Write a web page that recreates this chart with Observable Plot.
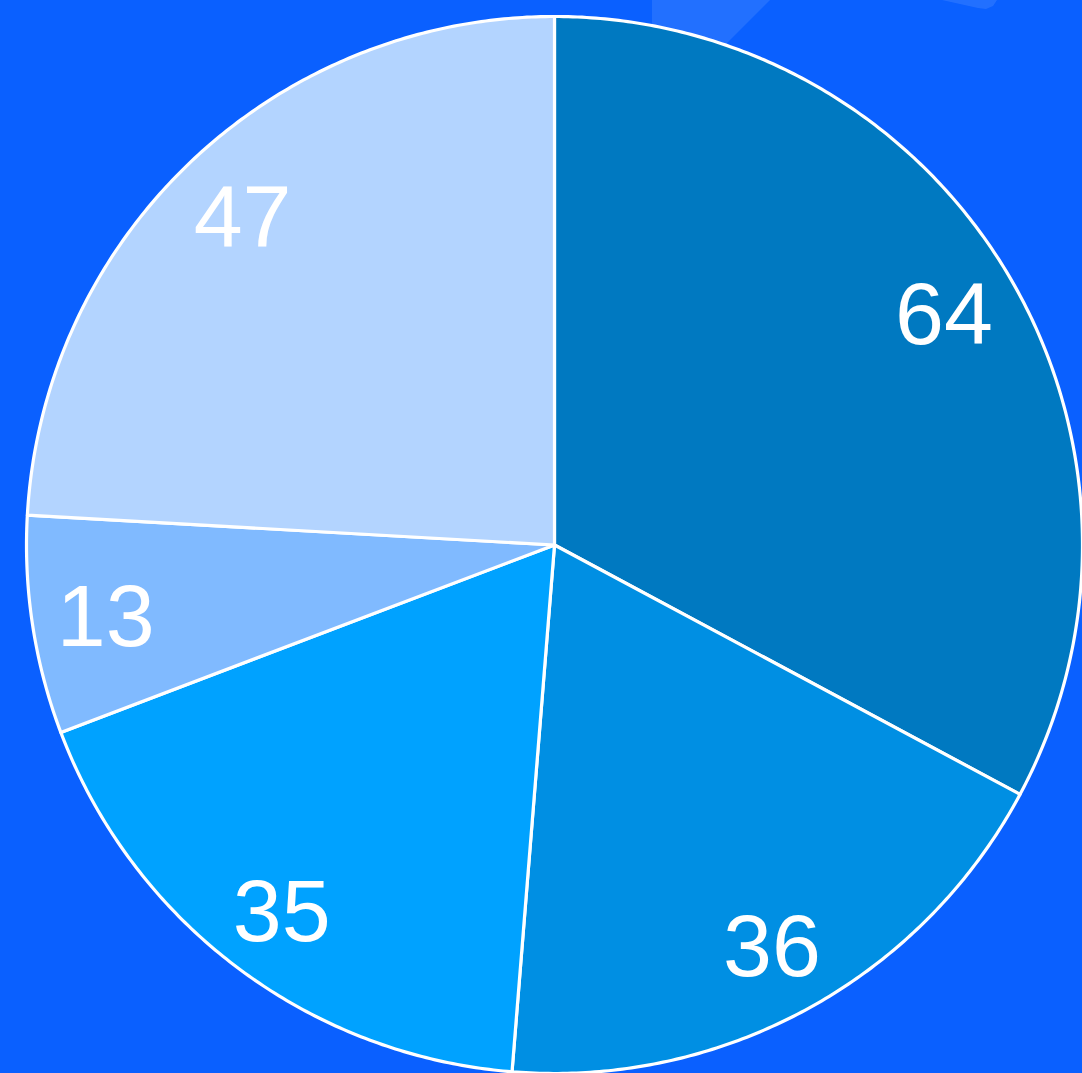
<!DOCTYPE html>
<html>
<head>
<meta charset="utf-8">
<script src="https://cdn.jsdelivr.net/npm/d3@7"></script>
<script src="https://cdn.jsdelivr.net/npm/@observablehq/plot@0.6"></script>
<style>
  html, body { margin: 0; padding: 0; overflow: hidden; background: #0A60FF; }
  #wrap { position: relative; width: 1082px; height: 1073px; }
  .deco { position: absolute; background: rgba(255,255,255,0.1); }
  #d1 { left: 0; top: 0; width: 1082px; height: 120px; clip-path: polygon(652px 0, 770px 0, 690px 80px, 652px 80px); }
  #d2 { left: 0; top: 0; width: 1082px; height: 120px; clip-path: polygon(942px 0, 997px 0, 993px 6px, 986px 9px, 978px 8px); }
  #chart { position: absolute; left: 0; top: 0; }
</style>
</head>
<body>
<div id="wrap">
  <div class="deco" id="d1"></div>
  <div class="deco" id="d2"></div>
  <div id="chart"></div>
</div>
<script>
// Data
const labels = ["64", "36", "35", "13", "47"];
const values = [64, 36, 35, 13, 47];
const palette = ["#0079C1", "#008FE3", "#00A2FF", "#80BAFF", "#B3D4FF"];

const table = labels.map((k, i) => ({key: k, value: values[i]}));
const arcs = d3.pie().sort(null).value(d => d.value).startAngle(0).endAngle(2 * Math.PI)(table);

// Build slice outlines (unit circle, y pointing down)
const pts = [];
for (const a of arcs) {
  const key = a.data.key;
  pts.push({key, x: 0, y: 0});
  const n = Math.max(2, Math.ceil((a.endAngle - a.startAngle) / (Math.PI / 360)));
  for (let j = 0; j <= n; j++) {
    const t = a.startAngle + (a.endAngle - a.startAngle) * j / n;
    pts.push({key, x: Math.sin(t), y: -Math.cos(t)});
  }
  pts.push({key, x: 0, y: 0});
}
const labelR = 0.86;
const labelPts = arcs.map(a => {
  const m = (a.startAngle + a.endAngle) / 2;
  return {key: a.data.key, x: labelR * Math.sin(m), y: -labelR * Math.cos(m)};
});

const chart = Plot.plot({
  width: 1082,
  height: 1073,
  marginLeft: 26,
  marginRight: 0,
  marginTop: 16,
  marginBottom: 0,
  x: {domain: [-1, 1], axis: null},
  y: {domain: [1, -1], axis: null},
  color: {domain: labels, range: palette},
  style: {background: "transparent", overflow: "visible"},
  marks: [
    Plot.line(pts, {x: "x", y: "y", z: "key", fill: "key", stroke: "white", strokeWidth: 3.2, strokeLinejoin: "round", curve: "linear"}),
    Plot.text(labelPts, {x: "x", y: "y", text: "key", fill: "white", fontSize: 88, dy: 4, fontFamily: "'Liberation Sans', Arial, sans-serif", textAnchor: "middle", lineAnchor: "middle"})
  ]
});
document.getElementById("chart").appendChild(chart);
</script>
</body>
</html>
